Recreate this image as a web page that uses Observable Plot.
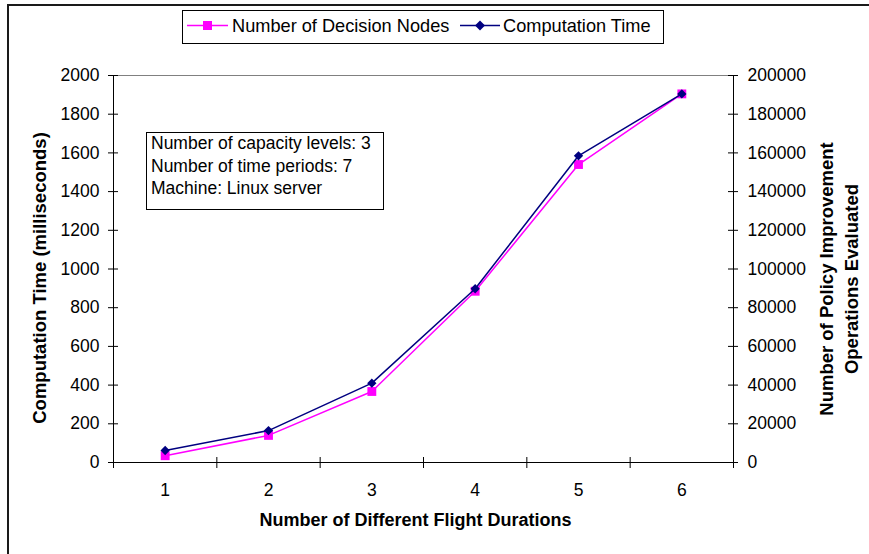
<!DOCTYPE html>
<html>
<head>
<meta charset="utf-8">
<script src="https://cdn.jsdelivr.net/npm/d3@7"></script>
<script src="https://cdn.jsdelivr.net/npm/@observablehq/plot@0.6"></script>
<style>
  body { margin: 0; background: #fff; }
  #chart { width: 869px; height: 554px; }
</style>
</head>
<body>
<div id="chart"></div>
<script>
// Categories: number of different flight durations
const flightDurations = [1, 2, 3, 4, 5, 6];
// Left axis series: computation time (milliseconds)
const computationTimeMs = [62, 165, 410, 898, 1585, 1905];
// Right axis series: number of policy improvement operations evaluated
const decisionNodes = [3500, 14000, 36700, 88500, 154000, 190500];
// Tick labels
const leftTicks = [0, 200, 400, 600, 800, 1000, 1200, 1400, 1600, 1800, 2000];
const rightTicks = [0, 20000, 40000, 60000, 80000, 100000, 120000, 140000, 160000, 180000, 200000];
const categoryEdges = [0.5, 1.5, 2.5, 3.5, 4.5, 5.5, 6.5];
const legendLabels = ["Number of Decision Nodes", "Computation Time"];
const noteLines = ["Number of capacity levels: 3", "Number of time periods: 7", "Machine: Linux server"];

// right axis units per left axis unit
const RATIO = rightTicks[rightTicks.length - 1] / leftTicks[leftTicks.length - 1];

const timeData = flightDurations.map((x, i) => ({x, v: computationTimeMs[i]}));
const nodeData = flightDurations.map((x, i) => ({x, v: decisionNodes[i] / RATIO}));

const MAGENTA = "#FF00FF";
const NAVY = "#000080";
const FONT = "'Liberation Sans', Arial, sans-serif";

const xMin = categoryEdges[0], xMax = categoryEdges[categoryEdges.length - 1];

const chart = Plot.plot({
  width: 869,
  height: 554,
  marginLeft: 113,
  marginRight: 136,
  marginTop: 75,
  marginBottom: 92,
  style: {fontFamily: FONT, fontSize: "17.5px", color: "#000", background: "#fff", overflow: "visible"},
  x: {type: "linear", domain: [xMin, xMax], label: null},
  y: {domain: [leftTicks[0], leftTicks[leftTicks.length - 1]], label: null},
  marks: [
    // top gridline
    Plot.ruleY([leftTicks[leftTicks.length - 1]], {stroke: "#808080", strokeWidth: 1}),
    // axis lines
    Plot.ruleX([xMin, xMax], {stroke: "#000", strokeWidth: 1}),
    Plot.ruleY([0], {stroke: "#000", strokeWidth: 1}),
    // crossing tick marks
    Plot.ruleY(leftTicks, {y: d => d, x1: xMin, x2: xMin, insetLeft: -5, insetRight: -5, stroke: "#000"}),
    Plot.ruleY(leftTicks, {y: d => d, x1: xMax, x2: xMax, insetLeft: -5, insetRight: -5, stroke: "#000"}),
    Plot.ruleX(categoryEdges, {x: d => d, y1: 0, y2: 0, insetTop: -5, insetBottom: -6, stroke: "#000"}),
    // tick labels
    Plot.axisY({anchor: "left", ticks: leftTicks, tickSize: 0, tickPadding: 14, tickFormat: d => String(d), fill: "#000"}),
    Plot.axisY({anchor: "right", ticks: leftTicks, tickSize: 0, tickPadding: 14,
      tickFormat: d => String(rightTicks[leftTicks.indexOf(d)]), fill: "#000"}),
    Plot.axisX({ticks: flightDurations, tickSize: 0, tickPadding: 21, tickFormat: d => String(d), fill: "#000"}),
    // series: decision nodes (right axis)
    Plot.line(nodeData, {x: "x", y: "v", stroke: MAGENTA, strokeWidth: 1.5}),
    Plot.dot(nodeData, {x: "x", y: "v", symbol: "square", r: 5, fill: MAGENTA, stroke: "none"}),
    // series: computation time (left axis)
    Plot.line(timeData, {x: "x", y: "v", stroke: NAVY, strokeWidth: 1.5}),
    Plot.dot(timeData, {x: "x", y: "v", symbol: "diamond2", r: 4.2, fill: NAVY, stroke: "none"}),
    // axis titles
    Plot.text(["Computation Time (milliseconds)"], {frameAnchor: "left", text: d => d, textAnchor: "middle",
      dx: -73, dy: 9, rotate: -90, fontWeight: "bold", fontSize: 18.5, fill: "#000"}),
    Plot.text(["Number of Policy Improvement\nOperations Evaluated"], {frameAnchor: "right", text: d => d,
      textAnchor: "middle", dx: 104, dy: 10, rotate: -90, fontWeight: "bold", fontSize: 18.5, lineHeight: 1.35, fill: "#000"}),
    Plot.text(["Number of Different Flight Durations"], {frameAnchor: "bottom", text: d => d, dx: -8, dy: 63,
      fontWeight: "bold", fontSize: 18, fill: "#000"})
  ]
});

document.getElementById("chart").appendChild(chart);

// Chart-area frame, legend and notes box
const svg = d3.select(chart);
const deco = svg.append("g")
  .attr("font-family", FONT).attr("font-size", "17.5px")
  .attr("fill", "#000").attr("text-anchor", "start");

deco.append("path")
  .attr("d", "M8,554 V5 H869")
  .attr("fill", "none").attr("stroke", "#1a1a1a").attr("stroke-width", 2);

// legend
const lg = deco.append("g").attr("font-size", "18.2px");
lg.append("rect").attr("x", 182.5).attr("y", 10.5).attr("width", 481).attr("height", 33)
  .attr("fill", "#fff").attr("stroke", "#000").attr("stroke-width", 1);
lg.append("line").attr("x1", 187).attr("x2", 228).attr("y1", 25.5).attr("y2", 25.5)
  .attr("stroke", MAGENTA).attr("stroke-width", 1.5);
lg.append("rect").attr("x", 203).attr("y", 21).attr("width", 9).attr("height", 9).attr("fill", MAGENTA);
lg.append("text").attr("x", 232).attr("y", 31.5).text(legendLabels[0]);
lg.append("line").attr("x1", 460).attr("x2", 500).attr("y1", 25.5).attr("y2", 25.5)
  .attr("stroke", NAVY).attr("stroke-width", 1.5);
lg.append("path").attr("d", "M480,20.5 L485,25.5 L480,30.5 L475,25.5 Z").attr("fill", NAVY);
lg.append("text").attr("x", 503).attr("y", 31.5).text(legendLabels[1]);

// notes box
const nb = deco.append("g");
nb.append("rect").attr("x", 146.5).attr("y", 132.5).attr("width", 237).attr("height", 77)
  .attr("fill", "#fff").attr("stroke", "#000").attr("stroke-width", 1);
noteLines.forEach((t, i) => {
  nb.append("text").attr("x", 151).attr("y", 149 + i * 22.5).text(t);
});
</script>
</body>
</html>
